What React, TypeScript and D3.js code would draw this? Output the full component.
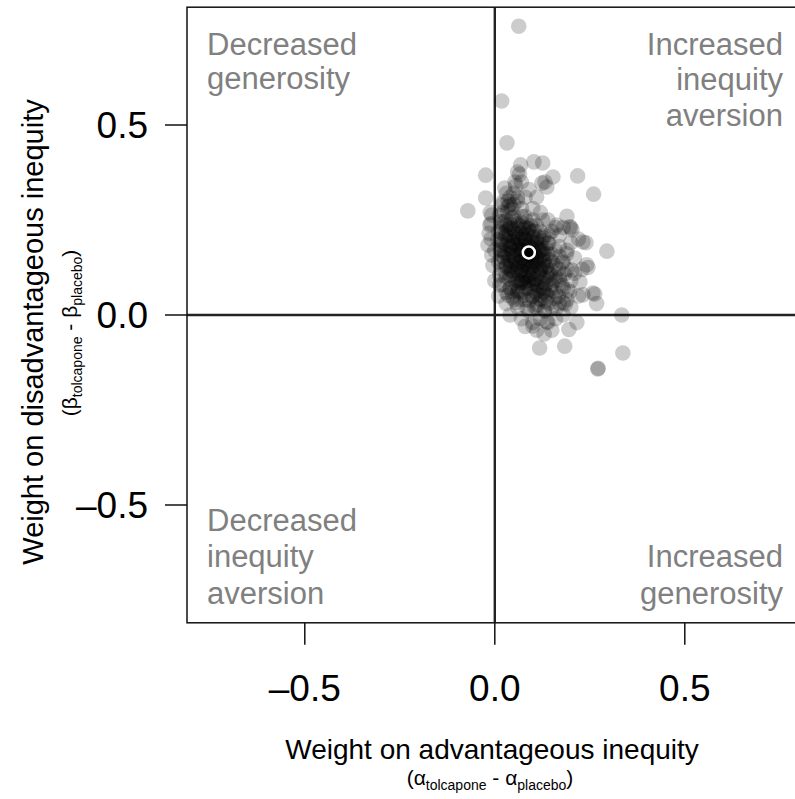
import React from "react";
import * as d3 from "d3";

// Individual estimates: difference in weight on advantageous (x) and disadvantageous (y) inequity
const pointsX: number[] = [
  // outliers / edge points
  0.063, 0.018, 0.032, -0.024, -0.071, -0.024, 0.103, 0.068, 0.153, 0.218, 0.26, 0.132, 0.295, 0.245, 0.334, 0.337, 0.271, 0.272, 0.118, 0.184, 0.268, 0.263, 0.216, 0.195,
  0.126, 0.137, 0.126, 0.163, 0.197, 0.06, 0.053, 0.026, 0.021, 0.124, -0.008, -0.013, -0.018, -0.008, 0.013, 0.013, 0.047, 0.242, 0.232, 0.203, 0.203, 0.224, 0.258, 0.232, 0.197, 0.18, 0.171, 0.137, 0.1,
  // core
  0.02, 0.04, 0.03, 0.05, 0.07, 0.06, 0.01, 0.03, 0.05, 0.08, 0.10, 0.09, 0.12, 0.11, 0.07, 0.04, 0.02, 0.01, 0.03, 0.05, 0.06, 0.08, 0.10, 0.12, 0.14, 0.15, 0.13, 0.11, 0.09, 0.07, 0.05, 0.03, 0.02, 0.04, 0.06, 0.08, 0.10, 0.12, 0.14, 0.16, 0.17, 0.15, 0.13, 0.11, 0.09, 0.07, 0.05, 0.08, 0.10, 0.12, 0.14, 0.16, 0.18, 0.19, 0.17, 0.15, 0.13, 0.11, 0.09, 0.06,
  0.06, 0.08, 0.10, 0.07, 0.09, 0.11, 0.08, 0.10, 0.06, 0.04, 0.05, 0.09, 0.07, 0.12, 0.09, 0.07, 0.04, 0.03, 0.06, 0.11, 0.13, 0.14, 0.16, 0.08, 0.06, 0.05, 0.08, 0.04, 0.02, 0.10, 0.13, 0.15, 0.17, 0.18, 0.19, 0.20, 0.21, 0.19, 0.17, 0.16, 0.18, 0.20, 0.12, 0.14, 0.10, 0.09, 0.07, 0.11, 0.02, 0.01, 0.03, -0.01, -0.01, 0.00, 0.03, 0.04, 0.07, 0.10, 0.12, 0.14, 0.16, 0.15, 0.18, 0.11, 0.08, 0.13, 0.20, 0.22, 0.21, 0.23, 0.22, 0.20, 0.19, 0.24,
  // dense layer A
  0.025, 0.045, 0.065, 0.085, 0.035, 0.055, 0.075, 0.095, 0.115, 0.015, 0.035, 0.055, 0.075, 0.095, 0.115, 0.135, 0.025, 0.045, 0.065, 0.085, 0.105, 0.125, 0.145, 0.035, 0.055, 0.075, 0.095, 0.115, 0.135, 0.045, 0.065, 0.085, 0.105, 0.125, 0.145, 0.075, 0.095, 0.055, 0.115, 0.135,
  // dense layer B
  0.03, 0.05, 0.07, 0.09, 0.11, 0.04, 0.06, 0.08, 0.10, 0.12, 0.05, 0.07, 0.09, 0.11, 0.13, 0.06, 0.08, 0.10, 0.12, 0.04, 0.07, 0.09, 0.11, 0.08, 0.06, 0.10, 0.13, 0.02, 0.03, 0.02,
  // dense layer C
  0.012, 0.033, 0.052, 0.071, 0.018, 0.041, 0.062, 0.083, 0.104, 0.008, 0.028, 0.047, 0.068, 0.089, 0.109, 0.129, 0.014, 0.037, 0.058, 0.079, 0.098, 0.118, 0.139, 0.022, 0.043, 0.066, 0.087, 0.108, 0.127, 0.148, 0.029, 0.051, 0.072, 0.093, 0.114, 0.136, 0.041, 0.062, 0.083, 0.104, 0.125, 0.146, 0.068, 0.091, 0.112, 0.133, 0.158,
  // dense layer D
  0.027, 0.049, 0.072, 0.088, 0.019, 0.039, 0.061, 0.081, 0.101, 0.024, 0.044, 0.066, 0.086, 0.106, 0.126, 0.031, 0.052, 0.074, 0.094, 0.116, 0.038, 0.058, 0.079, 0.099, 0.121, 0.046, 0.067, 0.088, 0.109, 0.128, 0.057, 0.078, 0.099, 0.118, 0.035,
  // upper finger and left edge
  0.04, 0.055, 0.065, 0.045, 0.035, -0.015, -0.005, -0.012, 0.0,
  // right-hand layer E
  0.142, 0.158, 0.171, 0.152, 0.168, 0.183, 0.146, 0.161, 0.177, 0.192, 0.153, 0.168, 0.186, 0.141, 0.131, 0.162, 0.178, 0.189, 0.134, 0.121, 0.105, 0.085, 0.124, 0.143,
  // upper dark
  0.02, 0.035, 0.05, 0.03, 0.06, 0.015,
];
const pointsY: number[] = [
  0.76, 0.563, 0.453, 0.368, 0.274, 0.308, 0.403, 0.395, 0.363, 0.366, 0.318, 0.35, 0.168, 0.125, 0.0, -0.1, -0.142, -0.14, -0.087, -0.082, 0.03, 0.055, -0.02, -0.038,
  0.40, 0.337, 0.25, 0.237, 0.232, 0.376, 0.35, 0.334, 0.297, 0.347, 0.263, 0.237, 0.184, 0.158, 0.105, 0.079, 0.047, 0.132, 0.192, 0.224, 0.118, 0.087, 0.058, 0.053, 0.061, 0.032, 0.092, -0.018, -0.029,
  0.27, 0.29, 0.25, 0.26, 0.28, 0.24, 0.22, 0.21, 0.22, 0.23, 0.25, 0.21, 0.22, 0.19, 0.19, 0.18, 0.17, 0.14, 0.13, 0.15, 0.16, 0.17, 0.16, 0.17, 0.19, 0.16, 0.14, 0.13, 0.14, 0.12, 0.11, 0.10, 0.08, 0.07, 0.09, 0.10, 0.11, 0.10, 0.11, 0.13, 0.10, 0.08, 0.07, 0.08, 0.07, 0.06, 0.04, 0.04, 0.05, 0.04, 0.05, 0.06, 0.07, 0.04, 0.03, 0.02, 0.01, 0.02, 0.01, 0.02,
  0.20, 0.20, 0.19, 0.15, 0.16, 0.15, 0.13, 0.13, 0.13, 0.14, 0.19, 0.18, 0.17, 0.12, 0.09, 0.09, 0.12, 0.16, 0.06, 0.06, 0.16, 0.13, 0.10, 0.26, 0.30, 0.32, 0.31, 0.23, 0.19, 0.22, 0.21, 0.22, 0.18, 0.14, 0.12, 0.09, 0.15, 0.17, 0.21, 0.23, 0.23, 0.19, 0.27, 0.25, 0.28, 0.33, 0.35, 0.31, 0.12, 0.05, 0.06, 0.24, 0.20, 0.17, 0.03, 0.00, -0.01, -0.02, -0.01, -0.02, -0.01, -0.04, 0.00, -0.04, -0.03, -0.05, 0.02, 0.05, 0.11, 0.12, 0.20, 0.23, 0.26, 0.19,
  0.245, 0.255, 0.235, 0.245, 0.225, 0.215, 0.225, 0.235, 0.205, 0.195, 0.195, 0.185, 0.205, 0.195, 0.175, 0.175, 0.165, 0.165, 0.175, 0.155, 0.165, 0.155, 0.145, 0.145, 0.135, 0.145, 0.125, 0.135, 0.125, 0.115, 0.105, 0.115, 0.095, 0.085, 0.095, 0.085, 0.075, 0.085, 0.065, 0.055,
  0.235, 0.205, 0.215, 0.225, 0.235, 0.175, 0.185, 0.185, 0.175, 0.185, 0.155, 0.165, 0.145, 0.155, 0.145, 0.125, 0.135, 0.115, 0.115, 0.105, 0.115, 0.105, 0.095, 0.085, 0.075, 0.085, 0.095, 0.215, 0.185, 0.155,
  0.262, 0.271, 0.248, 0.259, 0.231, 0.238, 0.227, 0.212, 0.221, 0.198, 0.207, 0.193, 0.199, 0.186, 0.197, 0.203, 0.172, 0.158, 0.171, 0.162, 0.151, 0.168, 0.161, 0.139, 0.128, 0.141, 0.128, 0.138, 0.131, 0.119, 0.112, 0.098, 0.092, 0.099, 0.108, 0.101, 0.072, 0.064, 0.071, 0.062, 0.074, 0.068, 0.041, 0.038, 0.028, 0.036, 0.044,
  0.218, 0.226, 0.241, 0.228, 0.183, 0.211, 0.203, 0.197, 0.206, 0.151, 0.181, 0.158, 0.171, 0.181, 0.171, 0.127, 0.142, 0.131, 0.161, 0.146, 0.094, 0.118, 0.108, 0.138, 0.121, 0.061, 0.083, 0.091, 0.079, 0.061, 0.033, 0.052, 0.048, 0.042, 0.052,
  0.31, 0.34, 0.37, 0.28, 0.30, 0.215, 0.13, 0.27, 0.09,
  0.188, 0.172, 0.154, 0.139, 0.121, 0.108, 0.108, 0.091, 0.078, 0.066, 0.062, 0.049, 0.029, 0.031, 0.014, 0.018, 0.137, 0.161, 0.082, 0.052, 0.022, 0.018, 0.195, 0.211,
  0.29, 0.285, 0.29, 0.32, 0.31, 0.245,
];
const meanX = 0.0895;
const meanY = 0.1645;

const tickValues: number[] = [-0.5, 0, 0.5];
const tickLabels: string[] = ["\u20130.5", "0.0", "0.5"];

const W = 795;
const H = 799;

export default function App() {
  const x = d3.scaleLinear().domain([-0.81, 0.81]).range([187, 802.6]);
  const y = d3.scaleLinear().domain([-0.81, 0.81]).range([622.8, 7.2]);
  const font = "'Liberation Sans', Arial, Helvetica, sans-serif";
  const pts = pointsX.map((v, i) => [v, pointsY[i]]);
  const qFill = "#808080";
  const qSize = 31;
  return (
    <svg width={W} height={H} style={{ position: "absolute", left: 0, top: 0, background: "#fff" }} fontFamily={font}>
      <defs>
        <clipPath id="plotclip">
          <rect x={x(-0.81)} y={y(0.81)} width={x(0.81) - x(-0.81)} height={y(-0.81) - y(0.81)} />
        </clipPath>
      </defs>
      {/* quadrant labels */}
      <g fill={qFill} fontSize={qSize}>
        <text x={207} y={55}>Decreased</text>
        <text x={207} y={89}>generosity</text>
        <text x={783} y={55} textAnchor="end">Increased</text>
        <text x={783} y={90} textAnchor="end">inequity</text>
        <text x={783} y={126} textAnchor="end">aversion</text>
        <text x={207} y={531}>Decreased</text>
        <text x={207} y={567}>inequity</text>
        <text x={207} y={604}>aversion</text>
        <text x={783} y={567} textAnchor="end">Increased</text>
        <text x={783} y={604} textAnchor="end">generosity</text>
      </g>
      {/* zero lines */}
      <line x1={x(0)} x2={x(0)} y1={y(0.81)} y2={y(-0.81)} stroke="#222" strokeWidth={2.4} />
      <line x1={x(-0.81)} x2={x(0.81)} y1={y(0)} y2={y(0)} stroke="#222" strokeWidth={2.4} />
      {/* points */}
      <g clipPath="url(#plotclip)">
        {pts.map((p, i) => (
          <circle key={i} cx={x(p[0])} cy={y(p[1])} r={7.8} fill="#000" fillOpacity={0.2} />
        ))}
        <circle cx={x(meanX)} cy={y(meanY)} r={6} fill="#000" stroke="#fff" strokeWidth={2.5} />
      </g>
      {/* frame */}
      <rect x={x(-0.81)} y={y(0.81)} width={x(0.81) - x(-0.81)} height={y(-0.81) - y(0.81)} fill="none" stroke="#111" strokeWidth={1.5} />
      {/* x axis */}
      <g>
        {tickValues.map((t, i) => (
          <g key={i}>
            <line x1={x(t)} x2={x(t)} y1={y(-0.81)} y2={y(-0.81) + 22} stroke="#111" strokeWidth={1.5} />
            <text x={x(t)} y={701} textAnchor="middle" fontSize={37} fill="#000">{tickLabels[i]}</text>
          </g>
        ))}
      </g>
      {/* y axis */}
      <g>
        {tickValues.map((t, i) => (
          <g key={i}>
            <line x1={x(-0.81) - 22} x2={x(-0.81)} y1={y(t)} y2={y(t)} stroke="#111" strokeWidth={1.5} />
            <text x={148} y={y(t)} dy="0.36em" textAnchor="end" fontSize={37} fill="#000">{tickLabels[i]}</text>
          </g>
        ))}
      </g>
      {/* x title */}
      <text x={492} y={759} textAnchor="middle" fontSize={28} fill="#000">Weight on advantageous inequity</text>
      <text x={490} y={785} textAnchor="middle" fontSize={21} fill="#000">
        (α<tspan fontSize={14} dy={5}>tolcapone</tspan>
        <tspan dy={-5}> - α</tspan>
        <tspan fontSize={14} dy={5}>placebo</tspan>
        <tspan dy={-5}>)</tspan>
      </text>
      {/* y title */}
      <text transform={`translate(43,332) rotate(-90)`} textAnchor="middle" fontSize={29} fill="#000">
        Weight on disadvantageous inequity
      </text>
      <text transform={`translate(77,333) rotate(-90)`} textAnchor="middle" fontSize={21} fill="#000">
        (β<tspan fontSize={14} dy={5}>tolcapone</tspan>
        <tspan dy={-5}> - β</tspan>
        <tspan fontSize={14} dy={5}>placebo</tspan>
        <tspan dy={-5}>)</tspan>
      </text>
    </svg>
  );
}
